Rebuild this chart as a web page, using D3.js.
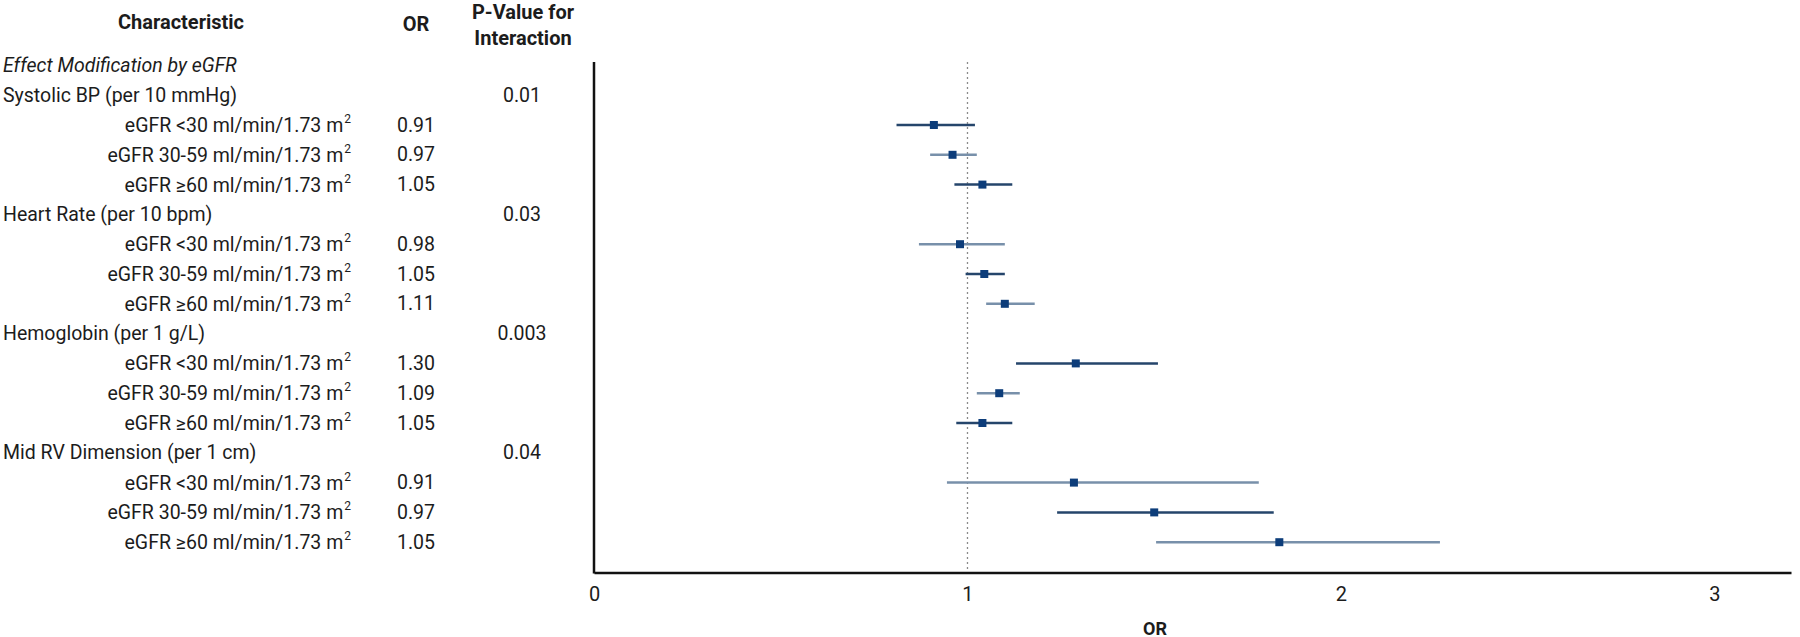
<!DOCTYPE html>
<html>
<head>
<meta charset="utf-8">
<script src="https://cdn.jsdelivr.net/npm/d3@7/dist/d3.min.js"></script>
<style>
body { margin:0; background:#fff; }
svg text { font-family: Roboto, "Noto Sans", sans-serif; fill:#1c1c1c; }
</style>
</head>
<body>
<svg id="graph"></svg>
<script>
// table contents
var groups = ["Systolic BP (per 10 mmHg)", "Heart Rate (per 10 bpm)", "Hemoglobin (per 1 g/L)", "Mid RV Dimension (per 1 cm)"]
var pInteraction = ["0.01", "0.03", "0.003", "0.04"]
var strata = ["eGFR <30 ml/min/1.73 m", "eGFR 30-59 ml/min/1.73 m", "eGFR \u226560 ml/min/1.73 m"]
var orText = [["0.91","0.97","1.05"], ["0.98","1.05","1.11"], ["1.30","1.09","1.05"], ["0.91","0.97","1.05"]]

// plotted estimates and CIs
var estimates = [[0.91, 0.96, 1.04], [0.98, 1.045, 1.10], [1.29, 1.085, 1.04], [1.285, 1.50, 1.835]]
var lower = [[0.81, 0.90, 0.965], [0.87, 0.995, 1.05], [1.13, 1.025, 0.97], [0.945, 1.24, 1.505]]
var upper = [[1.02, 1.025, 1.12], [1.10, 1.10, 1.18], [1.51, 1.14, 1.12], [1.78, 1.82, 2.265]]

var xTicks = [0, 1, 2, 3]

var screen = {width:1800, height:637}

var svg = d3.select("#graph")
.attr("width", screen.width)
.attr("height", screen.height)

// build the row list
var rows = []
rows.push({type:"title", label:"Effect Modification by eGFR"})
groups.forEach(function(g, gi)
{
    rows.push({type:"group", label:g, p:pInteraction[gi]})
    strata.forEach(function(s, si)
    {
        rows.push({type:"stratum", label:s, or:orText[gi][si],
            est:estimates[gi][si], lo:lower[gi][si], hi:upper[gi][si]})
    })
})

var yscale = d3.scaleLinear()
.domain([0, rows.length - 1])
.range([65.4, 542.2])

var xscale = d3.scaleLinear()
.domain([0, 3.205])
.range([594, 1791])

// headers
var header = svg.append("g").style("font-weight", "bold").style("font-size", "20px")
header.append("text").attr("x", 181).attr("y", 22).attr("text-anchor", "middle")
.attr("dominant-baseline", "central").text("Characteristic")
header.append("text").attr("x", 416).attr("y", 24).attr("text-anchor", "middle")
.attr("dominant-baseline", "central").text("OR")
header.append("text").attr("x", 523).attr("y", 12).attr("text-anchor", "middle")
.attr("dominant-baseline", "central").text("P-Value for")
header.append("text").attr("x", 523).attr("y", 38).attr("text-anchor", "middle")
.attr("dominant-baseline", "central").text("Interaction")

// left table
var table = svg.append("g").style("font-size", "19.5px")

table.selectAll(".left")
.data(rows.filter(function(r){ return r.type != "stratum" }))
.enter()
.append("text")
.attr("x", 3)
.attr("y", function(r){ return yscale(rows.indexOf(r)) })
.attr("dominant-baseline", "central")
.style("font-style", function(r){ return r.type == "title" ? "italic" : "normal" })
.text(function(r){ return r.label })

var strataText = table.selectAll(".stratum")
.data(rows.filter(function(r){ return r.type == "stratum" }))
.enter()
.append("text")
.attr("x", 351)
.attr("y", function(r){ return yscale(rows.indexOf(r)) })
.attr("dominant-baseline", "central")
.attr("text-anchor", "end")
strataText.append("tspan").text(function(r){ return r.label })
strataText.append("tspan").attr("dy", -6).attr("dx", 1).style("font-size", "12px").text("2")

table.selectAll(".orval")
.data(rows.filter(function(r){ return r.type == "stratum" }))
.enter()
.append("text")
.attr("x", 416)
.attr("y", function(r){ return yscale(rows.indexOf(r)) })
.attr("dominant-baseline", "central")
.attr("text-anchor", "middle")
.text(function(r){ return r.or })

table.selectAll(".pval")
.data(rows.filter(function(r){ return r.type == "group" }))
.enter()
.append("text")
.attr("x", 522)
.attr("y", function(r){ return yscale(rows.indexOf(r)) })
.attr("dominant-baseline", "central")
.attr("text-anchor", "middle")
.text(function(r){ return r.p })

// plot area
var plotTop = 62, plotBottom = 572.5

svg.append("line")
.attr("x1", xscale(1)).attr("x2", xscale(1))
.attr("y1", plotTop).attr("y2", plotBottom)
.attr("stroke", "#8a8a8a")
.attr("stroke-width", 1.3)
.attr("stroke-dasharray", "2,3")

var plotRows = rows.filter(function(r){ return r.type == "stratum" })

svg.selectAll(".ci")
.data(plotRows)
.enter()
.append("line")
.attr("x1", function(r){ return xscale(r.lo) })
.attr("x2", function(r){ return xscale(r.hi) })
.attr("y1", function(r){ return yscale(rows.indexOf(r)) })
.attr("y2", function(r){ return yscale(rows.indexOf(r)) })
.attr("stroke", function(r, i){ return i % 2 == 0 ? "#25456b" : "#7890aa" })
.attr("stroke-width", 2.5)

svg.selectAll(".pt")
.data(plotRows)
.enter()
.append("rect")
.attr("x", function(r){ return xscale(r.est) - 4 })
.attr("y", function(r){ return yscale(rows.indexOf(r)) - 4 })
.attr("width", 8)
.attr("height", 8)
.attr("fill", "#0d3d7a")

// axes
var xAxis = d3.axisBottom(xscale).tickValues(xTicks).tickFormat(d3.format("d")).tickSize(0).tickPadding(14)
var gx = svg.append("g").attr("transform", "translate(0," + plotBottom + ")").call(xAxis)
gx.select(".domain").attr("stroke", "#111").attr("stroke-width", 2.5)
gx.selectAll("text").style("font-size", "20px").attr("fill", "#1c1c1c")

svg.append("line")
.attr("x1", xscale(0)).attr("x2", xscale(0))
.attr("y1", plotTop).attr("y2", plotBottom + 1)
.attr("stroke", "#111")
.attr("stroke-width", 2.5)

svg.append("text")
.attr("x", 1155).attr("y", 628)
.attr("text-anchor", "middle")
.attr("dominant-baseline", "central")
.style("font-weight", "bold").style("font-size", "18px")
.text("OR")
</script>
</body>
</html>
